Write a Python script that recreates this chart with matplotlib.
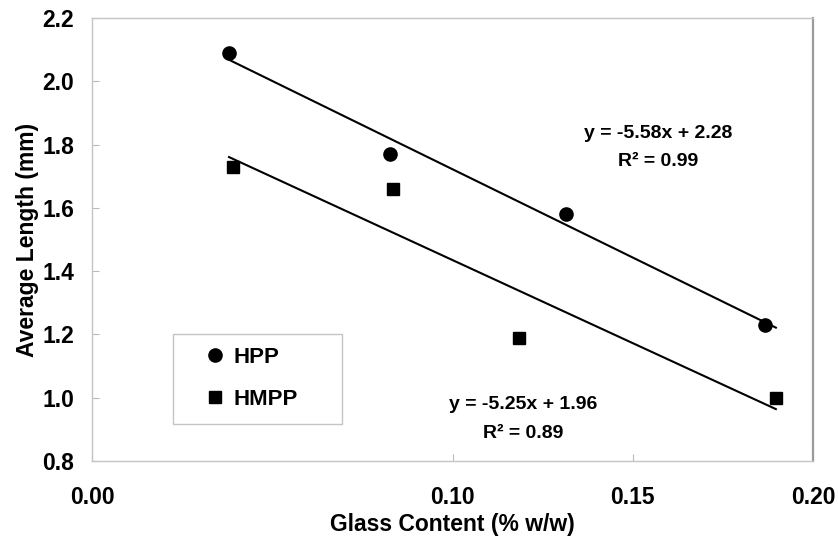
import matplotlib
matplotlib.use("Agg")
import matplotlib.pyplot as plt
from matplotlib.patches import Rectangle
import numpy as np

plt.rcParams["font.family"] = ["Liberation Sans", "DejaVu Sans"]
plt.rcParams["font.weight"] = "bold"

# veriler
hpp_x = [0.0380, 0.0827, 0.1315, 0.1867]
hpp_y = [2.09, 1.77, 1.58, 1.23]
hmpp_x = [0.0391, 0.0835, 0.1184, 0.1897]
hmpp_y = [1.73, 1.66, 1.19, 1.00]

# trend cizgileri (grafikteki denklemler)
hpp_fit = (-5.58, 2.28, 0.99)
hmpp_fit = (-5.25, 1.96, 0.89)

xticks = [0.00, 0.10, 0.15, 0.20]
yticks = [0.8, 1.0, 1.2, 1.4, 1.6, 1.8, 2.0, 2.2]

fig = plt.figure(figsize=(8.39, 5.37), dpi=100)
ax = fig.add_axes([0.1097, 0.1415, 0.969 - 0.1097, 0.9665 - 0.1415])

xs = np.array([min(hpp_x + hmpp_x), max(hpp_x + hmpp_x)])
ax.plot(xs, hpp_fit[0] * xs + hpp_fit[1], color="black", lw=1.5, zorder=2)
ax.plot(xs, hmpp_fit[0] * xs + hmpp_fit[1], color="black", lw=1.5, zorder=2)

ax.plot(hpp_x, hpp_y, "o", color="black", ms=9.5, ls="none", label="HPP", zorder=3)
ax.plot(hmpp_x, hmpp_y, "s", color="black", ms=8.8, ls="none", label="HMPP", zorder=3)

ax.set_xlim(0, 0.20)
ax.set_ylim(0.8, 2.2)
ax.set_xticks(xticks)
ax.set_xticklabels(["%.2f" % v for v in xticks])
ax.set_yticks(yticks)
ax.set_yticklabels(["%.1f" % v for v in yticks])
ax.tick_params(direction="in", length=5, color="#bbbbbb", labelsize=16.5)
ax.tick_params(axis="x", pad=18)
ax.tick_params(axis="y", pad=13)

for s in ax.spines.values():
    s.set_color("#c4c4c4")
    s.set_linewidth(1.0)
ax.spines["right"].set_color("#9a9a9a")
ax.spines["right"].set_linewidth(1.6)

ax.set_xlabel("Glass Content (% w/w)", fontsize=16.5, fontweight="bold", labelpad=3)
ax.set_ylabel("Average Length (mm)", fontsize=16.5, fontweight="bold", labelpad=2)

ax.text(0.157, 1.835, "y = %.2fx + %.2f" % hpp_fit[:2], fontsize=14, fontweight="bold",
        ha="center", va="center")
ax.text(0.157, 1.745, "R² = %.2f" % hpp_fit[2], fontsize=14, fontweight="bold",
        ha="center", va="center")
ax.text(0.1195, 0.978, "y = %.2fx + %.2f" % hmpp_fit[:2], fontsize=14, fontweight="bold",
        ha="center", va="center")
ax.text(0.1195, 0.888, "R² = %.2f" % hmpp_fit[2], fontsize=14, fontweight="bold",
        ha="center", va="center")

# legend kutusu
fig.patches.append(Rectangle((173 / 839, 1 - 424 / 537), 169 / 839, 90 / 537,
                             transform=fig.transFigure, facecolor="white",
                             edgecolor="#c4c4c4", lw=1.0, zorder=5))
leg = fig.legend(loc="upper left", bbox_to_anchor=(186 / 839, 1 - 331 / 537),
                 frameon=False, fontsize=16, handletextpad=0.25, labelspacing=0.95,
                 handlelength=1.2, borderpad=0.2)
leg.set_zorder(6)

fig.savefig("out.png", dpi=100)
